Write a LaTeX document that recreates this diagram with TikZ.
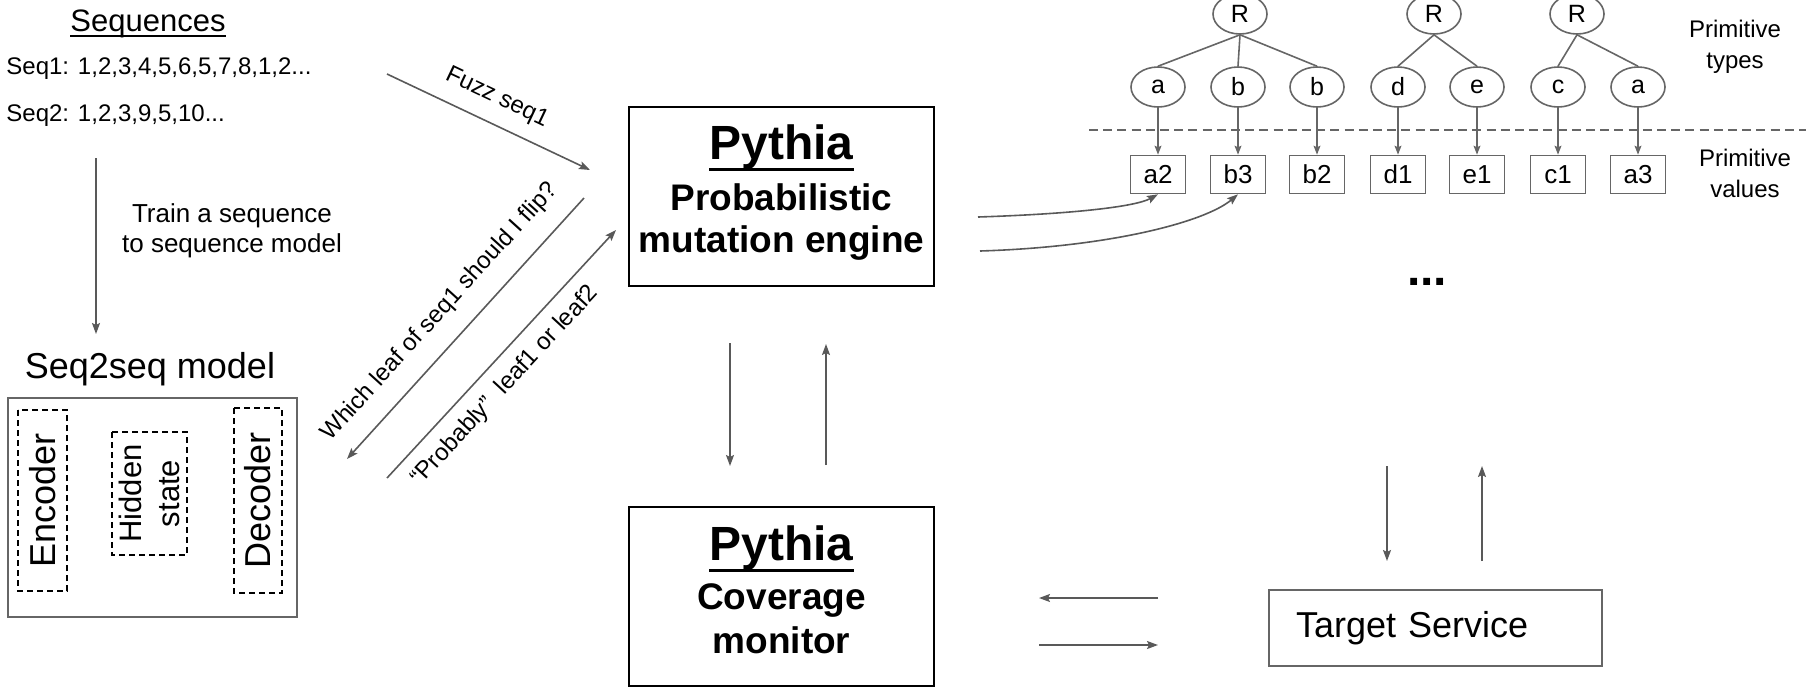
\documentclass[tikz,border=0pt]{standalone}
\usepackage{fontspec}
\setmainfont{Liberation Sans}
\usetikzlibrary{arrows.meta,shapes.geometric}
\definecolor{arrgray}{HTML}{595959}
\definecolor{boxgray}{HTML}{666666}
\newcommand{\ulbox}[3]{\setbox0=\hbox{#3}\rlap{\vrule height -#1 depth \dimexpr #1+#2\relax width \wd0}\box0}
\begin{document}
\begin{tikzpicture}[x=0.5pt,y=-0.5pt,
  arr/.style={draw=arrgray, line width=0.8pt, -{Stealth[length=5.5pt,width=4pt,inset=1pt]}},
  treeline/.style={draw=boxgray, line width=0.8pt},
  treearr/.style={draw=boxgray, line width=0.8pt, -{Stealth[length=4.5pt,width=3.4pt,inset=0.8pt]}},
  lbl/.style={inner sep=0pt, font=\fontsize{12}{14}\selectfont},
  tnode/.style={ellipse, draw=boxgray, line width=0.8pt, minimum width=27pt, minimum height=20pt, inner sep=0pt, font=\fontsize{12.5}{14}\selectfont},
  vnode/.style={rectangle, draw=boxgray, line width=0.8pt, minimum width=27.5pt, minimum height=19pt, inner sep=0pt, font=\fontsize{13}{15}\selectfont},
  dashbox/.style={draw=black, line width=0.8pt, dash pattern=on 3pt off 2pt, inner sep=1pt},
  pbox/.style={draw=black, line width=1pt, minimum width=152.5pt, minimum height=89.5pt, inner sep=0pt},
  ptitle/.style={anchor=base, inner sep=0pt, font=\bfseries\fontsize{24}{28}\selectfont},
  psub/.style={anchor=base, inner sep=0pt, font=\bfseries\fontsize{18.5}{22}\selectfont}
]
\useasboundingbox (0,0) rectangle (1806,687);

% ---------- left: sequences ----------
\node[anchor=base, inner sep=0pt, font=\fontsize{15.5}{18}\selectfont] (seqtitle) at (148,31) {\ulbox{2.2pt}{0.7pt}{Sequences}};
\node[anchor=west, inner sep=0pt, font=\fontsize{12}{14}\selectfont] (seq1) at (6,69) {Seq1: 1,2,3,4,5,6,5,7,8,1,2...};
\node[anchor=west, inner sep=0pt, font=\fontsize{12}{14}\selectfont] (seq2) at (6,116) {Seq2: 1,2,3,9,5,10...};

\coordinate (tr1) at (96,158);
\coordinate (tr2) at (96,334);
\draw[arr] (tr1) -- (tr2);
\node[align=center, inner sep=0pt, font=\fontsize{13}{14.8}\selectfont] (train) at (232,231) {Train a sequence\\to sequence model};

% ---------- seq2seq model ----------
\node[inner sep=0pt, font=\fontsize{18}{21}\selectfont] (s2stitle) at (150,369) {Seq2seq model};
\node[draw=boxgray, line width=1pt, minimum width=144.5pt, minimum height=109.5pt, inner sep=0pt] (model) at (152.5,507.5) {};
\node[dashbox, rotate=90, minimum width=90.5pt, minimum height=24.5pt, font=\fontsize{18}{21}\selectfont] (enc) at (42.5,500.5) {Encoder};
\node[dashbox, rotate=90, minimum width=61.5pt, minimum height=37.5pt, align=center, font=\fontsize{15.5}{19}\selectfont] (hid) at (149.5,493.5) {Hidden\\state};
\node[dashbox, rotate=90, minimum width=92.5pt, minimum height=24pt, font=\fontsize{18}{21}\selectfont] (dec) at (258,500.5) {Decoder};

% ---------- diagonal arrows ----------
\coordinate (fz1) at (387,74);
\coordinate (fz2) at (590,170);
\draw[arr] (fz1) -- (fz2);
\node[lbl, rotate=-25.3] (fzl) at (497,98) {Fuzz seq1};

\coordinate (wh1) at (584,198);
\coordinate (wh2) at (347,459);
\draw[arr] (wh1) -- (wh2);
\node[lbl, rotate=47.8] (whl) at (440,312) {Which leaf of seq1 should I flip?};

\coordinate (pr1) at (387,478);
\coordinate (pr2) at (616,230);
\draw[arr] (pr1) -- (pr2);
\node[lbl, rotate=47.3] (prl) at (505,386) {“Probably”\ \ leaf1 or leaf2};

% ---------- Pythia boxes ----------
\node[pbox] (pme) at (781.5,196.5) {};
\node[ptitle] (pmet) at (781.5,159) {\ulbox{4.5pt}{1.5pt}{Pythia}};
\node[psub] (pmes1) at (781.5,210) {Probabilistic};
\node[psub] (pmes2) at (781.5,252) {mutation engine};

\node[pbox] (pcm) at (781.5,596.5) {};
\node[ptitle] (pcmt) at (781.5,560) {\ulbox{4.5pt}{1.5pt}{Pythia}};
\node[psub] (pcms1) at (781.5,609) {Coverage};
\node[psub] (pcms2) at (781.5,653) {monitor};

\coordinate (v1a) at (730,343);
\coordinate (v1b) at (730,466);
\draw[arr] (v1a) -- (v1b);
\coordinate (v2a) at (826,465);
\coordinate (v2b) at (826,344);
\draw[arr] (v2a) -- (v2b);

% ---------- target service ----------
\node[draw=boxgray, line width=1pt, text width=139.5pt, inner xsep=13.5pt, minimum height=38pt, align=left, font=\fontsize{18}{21}\selectfont] (ts) at (1435.5,628) {Target Service};

\coordinate (h1a) at (1158,598);
\coordinate (h1b) at (1039,598);
\draw[arr] (h1a) -- (h1b);
\coordinate (h2a) at (1039,645);
\coordinate (h2b) at (1158,645);
\draw[arr] (h2a) -- (h2b);

\coordinate (t1a) at (1387,466);
\coordinate (t1b) at (1387,561);
\draw[arr] (t1a) -- (t1b);
\coordinate (t2a) at (1482,561);
\coordinate (t2b) at (1482,466);
\draw[arr] (t2a) -- (t2b);

% ---------- trees ----------
\node[tnode] (R1) at (1240,14) {R};
\node[tnode] (R2) at (1434,14) {R};
\node[tnode] (R3) at (1577,14) {R};

\node[tnode] (n1) at (1158,87) {a};
\node[tnode] (n2) at (1238,87) {b};
\node[tnode] (n3) at (1317,87) {b};
\node[tnode] (n4) at (1398,87) {d};
\node[tnode] (n5) at (1477,87) {e};
\node[tnode] (n6) at (1558,87) {c};
\node[tnode] (n7) at (1638,87) {a};

\node[vnode] (val1) at (1158,174.5) {a2};
\node[vnode] (val2) at (1238,174.5) {b3};
\node[vnode] (val3) at (1317,174.5) {b2};
\node[vnode] (val4) at (1398,174.5) {d1};
\node[vnode] (val5) at (1477,174.5) {e1};
\node[vnode] (val6) at (1558,174.5) {c1};
\node[vnode] (val7) at (1638,174.5) {a3};

\draw[treeline] (R1.south) -- (n1.north);
\draw[treeline] (R1.south) -- (n2.north);
\draw[treeline] (R1.south) -- (n3.north);
\draw[treeline] (R2.south) -- (n4.north);
\draw[treeline] (R2.south) -- (n5.north);
\draw[treeline] (R3.south) -- (n6.north);
\draw[treeline] (R3.south) -- (n7.north);

\foreach \i in {1,...,7} {\draw[treearr] (n\i.south) -- (val\i.north);}

\draw[draw=boxgray, line width=1pt, dash pattern=on 4.5pt off 2.6pt] (1089,130) -- (1806,130);

\node[align=center, inner sep=0pt, font=\fontsize{12}{15.5}\selectfont] (ptypes) at (1735,47) {Primitive\\types};
\node[align=center, inner sep=0pt, font=\fontsize{12}{15.5}\selectfont] (pvalues) at (1745,173) {Primitive\\values};

\node[anchor=base, inner sep=0pt, font=\bfseries\fontsize{24}{28}\selectfont] (dots) at (1427,285) {...};

% ---------- curved arrows to leaves ----------
\coordinate (c1) at (978,217);
\coordinate (c2) at (980,251);
\draw[arr] (c1) .. controls (1070,214) and (1135,207) .. (val1.south);
\draw[arr] (c2) .. controls (1110,247) and (1205,222) .. (val2.south);

\end{tikzpicture}
\end{document}
